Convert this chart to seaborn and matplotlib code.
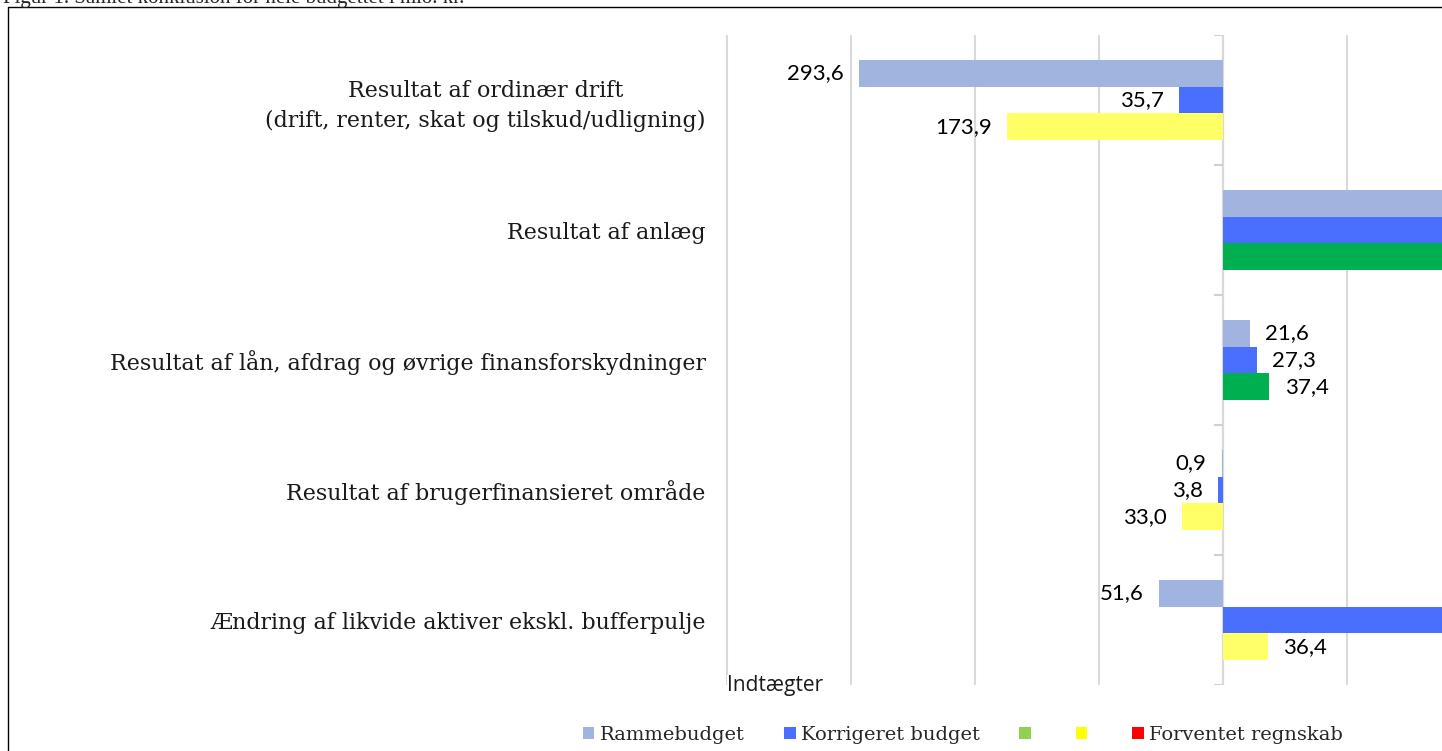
"""
Samlet konklusion for hele budgettet - vandret grupperet søjlediagram
"""
import matplotlib
matplotlib.use('Agg')
import matplotlib.pyplot as plt
from matplotlib.patches import Patch
from matplotlib.lines import Line2D
import matplotlib.transforms as mtransforms
import seaborn as sns
import pandas as pd

# Data (mio. kr.) - negative værdier vises til venstre (indtægter)
kategorier = [
    "Resultat af ordinær drift\n(drift, renter, skat og tilskud/udligning)",
    "Resultat af anlæg",
    "Resultat af lån, afdrag og øvrige finansforskydninger",
    "Resultat af brugerfinansieret område",
    "Ændring af likvide aktiver ekskl. bufferpulje",
]
rammebudget = [-293.6, 250.0, 21.6, -0.9, -51.6]
korrigeret_budget = [-35.7, 300.0, 27.3, -3.8, 260.0]
tredje_serie = [-173.9, 280.0, 37.4, -33.0, 36.4]
tredje_farve = ['gul', 'grøn', 'grøn', 'gul', 'gul']

legend_labels = ['Rammebudget', 'Korrigeret budget', '', '', 'Forventet regnskab']
legend_colors = ['#A1B4E0', '#4A6FFF', '#92D050', '#FFFF00', '#FF0000']

FARVER = {'ramme': '#A1B4E0', 'korr': '#4A6FFF', 'grøn': '#00B050', 'gul': '#FFFF66'}

df = pd.DataFrame({
    'kategori': kategorier * 3,
    'serie': ['ramme'] * 5 + ['korr'] * 5 + ['tredje'] * 5,
    'værdi': rammebudget + korrigeret_budget + tredje_serie,
})

sns.set_style('white')
plt.rcParams['font.family'] = ['DejaVu Serif']

W, H = 1442, 751
fig = plt.figure(figsize=(W / 100, H / 100), dpi=100)
fig.patch.set_facecolor('white')

# plot area extends past the right edge (cropped like the reference)
ax_left, ax_top, ax_bottom = 725, 35, 685
ax_width = 994
ax = fig.add_axes([ax_left / W, 1 - ax_bottom / H, ax_width / W, (ax_bottom - ax_top) / H])

sns.barplot(data=df, y='kategori', x='værdi', hue='serie',
            hue_order=['ramme', 'korr', 'tredje'],
            palette=[FARVER['ramme'], FARVER['korr'], FARVER['gul']],
            width=0.62, orient='h', legend=False, ax=ax, saturation=1)

# recolor the third slot green/yellow per category
for patch, farve in zip(ax.containers[2], tredje_farve):
    patch.set_facecolor(FARVER[farve])
for cont in ax.containers:
    for patch in cont:
        patch.set_edgecolor('none')

# value labels (absolute values, Danish decimal comma); labels of bars
# running past the cropped right edge are not visible in the original
SYNLIG_MAX = 170
for cont in ax.containers:
    vals = [p.get_width() for p in cont]
    labels = ['' if v > SYNLIG_MAX else f"{abs(v):.1f}".replace('.', ',') for v in vals]
    ax.bar_label(cont, labels=labels, padding=11, fontsize=16,
                 family='Lato', color='black')

ax.set_xlim(-401.6, 400)
ax.set_ylim(4.5, -0.5)
ax.set_xticks(range(-400, 401, 100))
ax.tick_params(axis='x', length=0, labelbottom=False)
ax.xaxis.grid(True, color='#D9D9D9', linewidth=1.5)
ax.set_axisbelow(True)
ax.axvline(0, color='#D0D0D0', linewidth=1.5, zorder=0.5)
ax.hlines([i - 0.5 for i in range(6)], -7, 0, color='#D0D0D0', linewidth=1.5)
for s in ax.spines.values():
    s.set_visible(False)

ax.set_xlabel('')
ax.set_ylabel('')
ax.tick_params(axis='y', length=0, pad=14)
for lbl in ax.get_yticklabels():
    lbl.set_fontsize(15.9)
    lbl.set_multialignment('center')
    lbl.set_linespacing(1.45)
    lbl.set_color('#1a1a1a')

trans = mtransforms.blended_transform_factory(ax.transData, ax.transAxes)
ax.text(-400, 0.0, 'Indtægter', transform=trans, ha='left', va='center',
        fontsize=15, family='Open Sans', color='#1a1a1a',
        bbox=dict(facecolor='white', edgecolor='none', pad=0))

# legend
handles = [Patch(facecolor=c, edgecolor='none') for c in legend_colors]
fig.legend(handles, legend_labels, loc='center', ncol=5,
           bbox_to_anchor=(963 / W, 1 - 735 / H), frameon=False,
           prop={'family': 'DejaVu Serif', 'size': 14},
           handlelength=0.6, handleheight=0.6, handletextpad=0.3,
           columnspacing=2.0)

# caption at the top (cut off) and page frame
fig.text(3 / W, 1 - 3 / H, 'Figur 1. Samlet konklusion for hele budgettet i mio. kr.',
         family='Liberation Serif', fontsize=15, ha='left', va='baseline')
fig.add_artist(Line2D([8 / W, 8 / W], [0, 1 - 7 / H], color='black', linewidth=1))
fig.add_artist(Line2D([8 / W, 1], [1 - 7 / H, 1 - 7 / H], color='black', linewidth=1))

plt.savefig('out.png', dpi=100)
plt.close()
